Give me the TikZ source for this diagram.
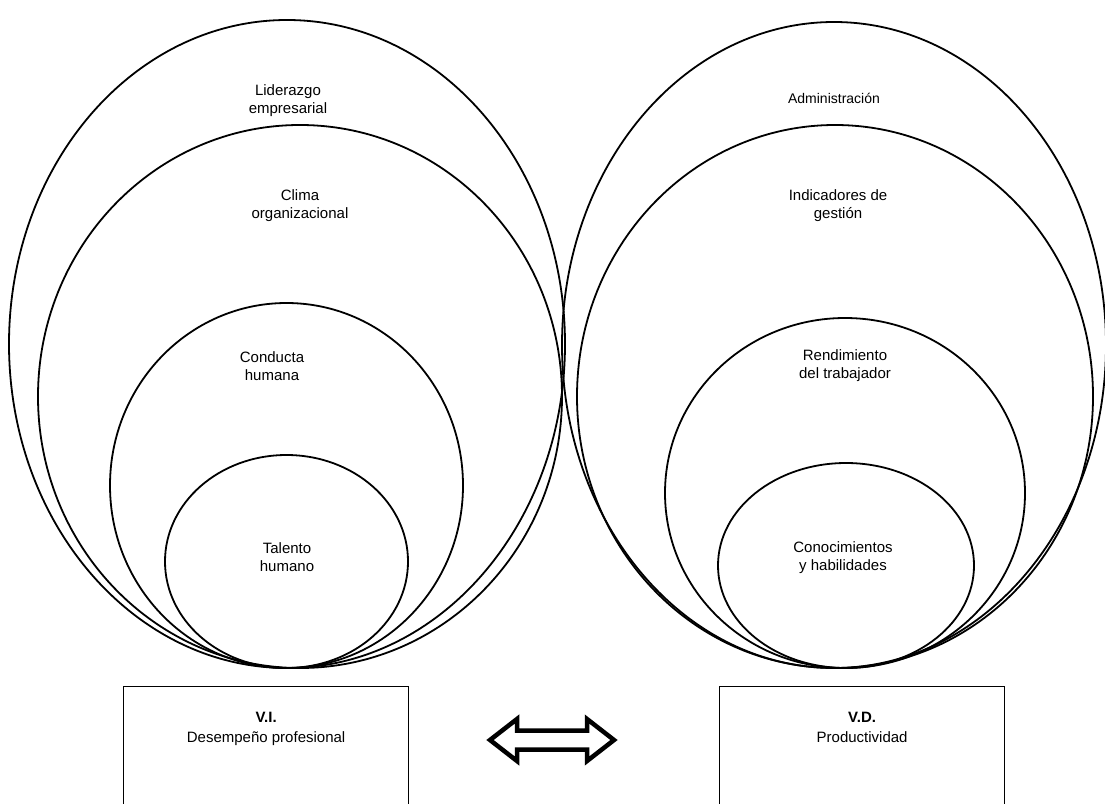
\documentclass[tikz,border=0pt]{standalone}
\usepackage{fontspec}
\setmainfont{Liberation Sans}
\usetikzlibrary{shapes.geometric}
\begin{document}
\begin{tikzpicture}[x=1pt,y=-1pt,
  set/.style={draw=black,line width=1.8pt,ellipse,inner sep=0pt},
  lbl/.style={align=center,font=\fontsize{15}{18}\selectfont,inner sep=0pt},
  varbox/.style={draw=black,line width=1.2pt,rectangle,inner sep=0pt},
  dblarrow/.style={draw=black,line width=4.5pt,fill=white,line join=miter}]
\clip (0,0) rectangle (1105,803);
\fill[white] (0,0) rectangle (1105,803);
% left sets
\node[set,minimum width=556pt,minimum height=648pt] (L1) at (287,344) {};
\node[set,minimum width=524pt,minimum height=543pt] (L2) at (300,396.5) {};
\node[set,minimum width=353pt,minimum height=365pt] (L3) at (286.5,485.5) {};
\node[set,minimum width=243pt,minimum height=213pt] (L4) at (286.5,561.5) {};
\node[lbl] (tL1) at (288,101) {Liderazgo\\empresarial};
\node[lbl] (tL2) at (300,206) {Clima\\organizacional};
\node[lbl] (tL3) at (272,366) {Conducta\\humana};
\node[lbl] (tL4) at (287,557) {Talento\\humano};
% right sets
\node[set,minimum width=544pt,minimum height=646pt] (R1) at (834,345) {};
\node[set,minimum width=516pt,minimum height=543pt] (R2) at (835,396.5) {};
\node[set,minimum width=360pt,minimum height=350pt] (R3) at (845,493) {};
\node[set,minimum width=256pt,minimum height=205pt] (R4) at (846,565.5) {};
\node[lbl,font=\fontsize{14}{17}\selectfont] (tR1) at (834,98) {Administración};
\node[lbl] (tR2) at (838,206) {Indicadores de\\gestión};
\node[lbl] (tR3) at (845,366) {Rendimiento\\del trabajador};
\node[lbl] (tR4) at (843,558) {Conocimientos\\y habilidades};
% variable boxes
\node[varbox,minimum width=285pt,minimum height=140pt,anchor=north west] (VI) at (123,686) {};
\node[varbox,minimum width=285pt,minimum height=140pt,anchor=north west] (VD) at (719,686) {};
\node[lbl,font=\fontsize{15}{19.5}\selectfont,anchor=north] (tVI) at ([yshift=-26pt]VI.north) {\textbf{V.I.}\\Desempeño profesional};
\node[lbl,font=\fontsize{15}{19.5}\selectfont,anchor=north] (tVD) at ([yshift=-26pt]VD.north) {\textbf{V.D.}\\Productividad};
% double arrow
\coordinate (A) at (552,740);
\draw[dblarrow] (490,740) -- (517,719) -- (517,730.5) -- (587,730.5) -- (587,719) -- (614,740)
  -- (587,761) -- (587,749.5) -- (517,749.5) -- (517,761) -- cycle;
\end{tikzpicture}
\end{document}
